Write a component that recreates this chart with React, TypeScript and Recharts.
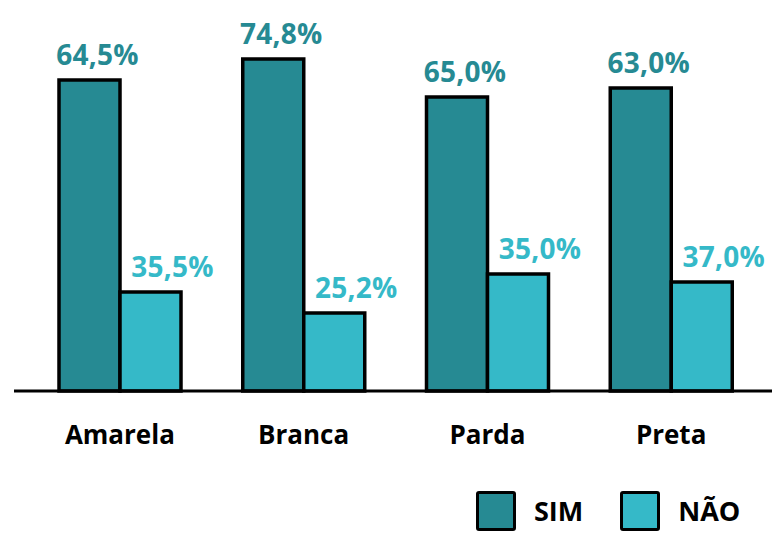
import React from "react";
import { BarChart, Bar, XAxis, YAxis, LabelList } from "recharts";

const categories = ["Amarela", "Branca", "Parda", "Preta"];
// bar heights as drawn in the picture (the source chart is not to scale)
const simHeights = [311, 332, 294, 303];
const naoHeights = [99, 78, 117, 109];
// printed labels
const simLabels = ["64,5%", "74,8%", "65,0%", "63,0%"];
const naoLabels = ["35,5%", "25,2%", "35,0%", "37,0%"];

const SIM_COLOR = "#268A93";
const NAO_COLOR = "#35B9C8";

const data = categories.map((c, i) => ({
  name: c,
  sim: simHeights[i],
  nao: naoHeights[i],
  simLabel: simLabels[i],
  naoLabel: naoLabels[i],
}));

const FONT = "'Open Sans', sans-serif";

const makeLabel = (color: string, dx: number) => (props: any) => {
  const { x, y, width, value } = props;
  return (
    <text
      x={Number(x) + Number(width) / 2 + dx}
      y={Number(y) - 15}
      textAnchor="middle"
      fill={color}
      fontFamily={FONT}
      fontWeight={700}
      fontSize={28}
      letterSpacing={0.3}
    >
      {value}
    </text>
  );
};

const Tick = (props: any) => {
  const { x, y, payload } = props;
  return (
    <text
      x={x}
      y={y}
      dy={45}
      textAnchor="middle"
      fill="#000"
      fontFamily={FONT}
      fontWeight={700}
      fontSize={26}
    >
      {payload.value}
    </text>
  );
};

const LegendBox = ({ color, label, gapAfter }: { color: string; label: string; gapAfter: number }) => (
  <div style={{ display: "flex", alignItems: "center", marginRight: gapAfter }}>
    <div
      style={{
        width: 34,
        height: 34,
        background: color,
        border: "3.5px solid #000",
        borderRadius: 3,
      }}
    />
    <span
      style={{
        marginLeft: 18,
        fontFamily: FONT,
        fontWeight: 700,
        fontSize: 27,
        color: "#000",
        lineHeight: "40px",
      }}
    >
      {label}
    </span>
  </div>
);

export default function App() {
  return (
    <div style={{ position: "absolute", left: 0, top: 0, width: 773, height: 533, background: "#fff" }}>
      <BarChart
        width={773}
        height={533}
        data={data}
        margin={{ top: 51, right: 1, bottom: 92, left: 14 }}
        barGap={0}
        barSize={61}
      >
        <XAxis
          dataKey="name"
          height={50}
          axisLine={{ stroke: "#000", strokeWidth: 3 }}
          tickLine={false}
          tick={<Tick />}
          padding={{ left: 14, right: 9 }}
          interval={0}
        />
        <YAxis hide domain={[0, 340]} />
        <Bar dataKey="sim" fill={SIM_COLOR} stroke="#000" strokeWidth={3.5} isAnimationActive={false}>
          <LabelList dataKey="simLabel" content={makeLabel(SIM_COLOR, 8)} />
        </Bar>
        <Bar dataKey="nao" fill={NAO_COLOR} stroke="#000" strokeWidth={3.5} isAnimationActive={false}>
          <LabelList dataKey="naoLabel" content={makeLabel(NAO_COLOR, 22)} />
        </Bar>
      </BarChart>
      <div style={{ position: "absolute", left: 476, top: 491, display: "flex", alignItems: "center" }}>
        <LegendBox color={SIM_COLOR} label="SIM" gapAfter={37} />
        <LegendBox color={NAO_COLOR} label="NÃO" gapAfter={0} />
      </div>
    </div>
  );
}
